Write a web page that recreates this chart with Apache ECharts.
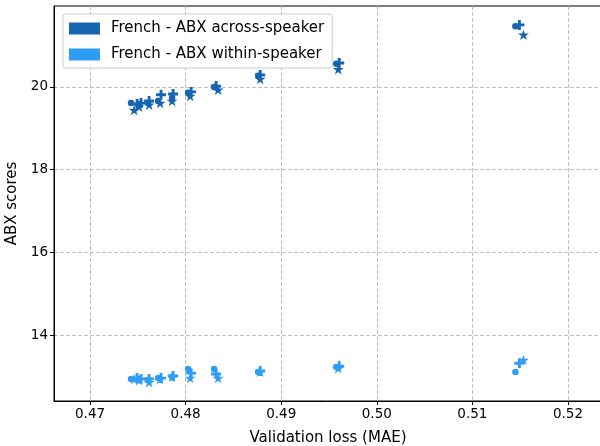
<!DOCTYPE html>
<html>
<head>
<meta charset="utf-8">
<script src="https://cdn.jsdelivr.net/npm/echarts@6/dist/echarts.min.js"></script>
<style>html,body{margin:0;padding:0;background:#fff}#c{width:600px;height:446px}</style>
</head>
<body>
<div id="c"></div>
<script>
// Validation loss (x) for each marker type
const circleX = [0.47429, 0.47513, 0.47607, 0.47712, 0.47859, 0.48026, 0.48298, 0.48759, 0.49576, 0.51450];
const plusX   = [0.47492, 0.47534, 0.47618, 0.47743, 0.47869, 0.48058, 0.48319, 0.48780, 0.49607, 0.51492];
const starX   = [0.47461, 0.47513, 0.47618, 0.47733, 0.47859, 0.48047, 0.48340, 0.48780, 0.49597, 0.51534];
// ABX across-speaker
const acrossCircle = [19.61, 19.59, 19.61, 19.66, 19.73, 19.86, 20.00, 20.27, 20.56, 21.47];
const acrossPlus   = [19.59, 19.61, 19.66, 19.81, 19.83, 19.88, 20.02, 20.29, 20.58, 21.50];
const acrossStar   = [19.44, 19.52, 19.57, 19.61, 19.66, 19.78, 19.93, 20.19, 20.43, 21.26];
// ABX within-speaker
const withinCircle = [12.94, 12.94, 12.91, 12.96, 12.99, 13.18, 13.18, 13.11, 13.23, 13.11];
const withinPlus   = [12.96, 12.94, 12.94, 12.96, 13.01, 13.08, 13.06, 13.13, 13.25, 13.32];
const withinStar   = [12.94, 12.91, 12.86, 12.94, 12.99, 12.96, 12.96, 13.11, 13.20, 13.40];
const xTicks = [0.47, 0.48, 0.49, 0.50, 0.51, 0.52];
const yTicks = [14, 16, 18, 20];
const names = ['French - ABX across-speaker', 'French - ABX within-speaker'];

const DARK = '#1565b0', LIGHT = '#2e9ef4';
const STAR = 'path://M0,-100 L22.3,-30.7 L95.1,-30.9 L36.1,11.7 L58.8,80.9 L0,38 L-58.8,80.9 L-36.1,11.7 L-95.1,-30.9 L-22.3,-30.7 Z';
const PLUS = 'path://M-1.15,-4H1.15V-1.15H4V1.15H1.15V4H-1.15V1.15H-4V-1.15H-1.15Z';
const FONT = 'DejaVu Sans';

function zip(xs, ys) { return xs.map((x, i) => [x, ys[i]]); }
function mk(name, color, xs, ys, symbol, size) {
  return {
    type: 'scatter', name: name, data: zip(xs, ys), symbol: symbol, symbolSize: size,
    symbolKeepAspect: true, itemStyle: { color: color, opacity: 1 }, z: 3
  };
}

const chart = echarts.init(document.getElementById('c'), null, { renderer: 'canvas' });
chart.setOption({
  animation: false,
  textStyle: { fontFamily: FONT },
  grid: { left: 54, right: -2, top: 6, bottom: 45, containLabel: false, outerBoundsMode: 'none',
          show: true, borderColor: '#000', borderWidth: 1, backgroundColor: 'transparent' },
  legend: {
    orient: 'vertical', left: 63, top: 14, padding: [7, 8, 6, 6],
    itemWidth: 31, itemHeight: 12, itemGap: 11, icon: 'rect',
    backgroundColor: 'rgba(255,255,255,0.85)', borderColor: '#cccccc', borderWidth: 1, borderRadius: 3,
    textStyle: { fontFamily: FONT, fontSize: 15, color: '#000', padding: [0, 0, 0, 6] },
    data: [{ name: names[0], itemStyle: { color: DARK } }, { name: names[1], itemStyle: { color: LIGHT } }],
    selectedMode: false
  },
  xAxis: {
    type: 'value', min: 0.46623, max: 0.52356,
    name: 'Validation loss (MAE)', nameLocation: 'middle', nameGap: 30,
    nameTextStyle: { fontFamily: FONT, fontSize: 15, color: '#000' },
    axisLine: { show: true, onZero: false, lineStyle: { color: '#000', width: 1 } },
    axisTick: { show: true, length: 4, customValues: xTicks, lineStyle: { color: '#000' } },
    axisLabel: { customValues: xTicks, fontFamily: FONT, fontSize: 13.5, color: '#000', margin: 6, formatter: v => v.toFixed(2) },
    splitLine: { show: true, lineStyle: { color: '#b0b0b0', width: 0.8, type: [4, 2] } }
  },
  yAxis: {
    type: 'value', min: 12.406, max: 21.957,
    name: 'ABX scores', nameLocation: 'middle', nameGap: 28, nameRotate: 90,
    nameTextStyle: { fontFamily: FONT, fontSize: 15, color: '#000' },
    axisLine: { show: true, onZero: false, lineStyle: { color: '#000', width: 1 } },
    axisTick: { show: true, length: 4, customValues: yTicks, lineStyle: { color: '#000' } },
    axisLabel: { customValues: yTicks, fontFamily: FONT, fontSize: 13.5, color: '#000', margin: 6 },
    splitLine: { show: true, lineStyle: { color: '#b0b0b0', width: 0.8, type: [4, 2] } }
  },
  series: [
    mk(names[0], DARK, circleX, acrossCircle, 'circle', 6.5),
    mk(names[0], DARK, plusX, acrossPlus, PLUS, 10),
    mk(names[0], DARK, starX, acrossStar, STAR, 11),
    mk(names[1], LIGHT, circleX, withinCircle, 'circle', 6.5),
    mk(names[1], LIGHT, plusX, withinPlus, PLUS, 10),
    mk(names[1], LIGHT, starX, withinStar, STAR, 11)
  ]
});
</script>
</body>
</html>
